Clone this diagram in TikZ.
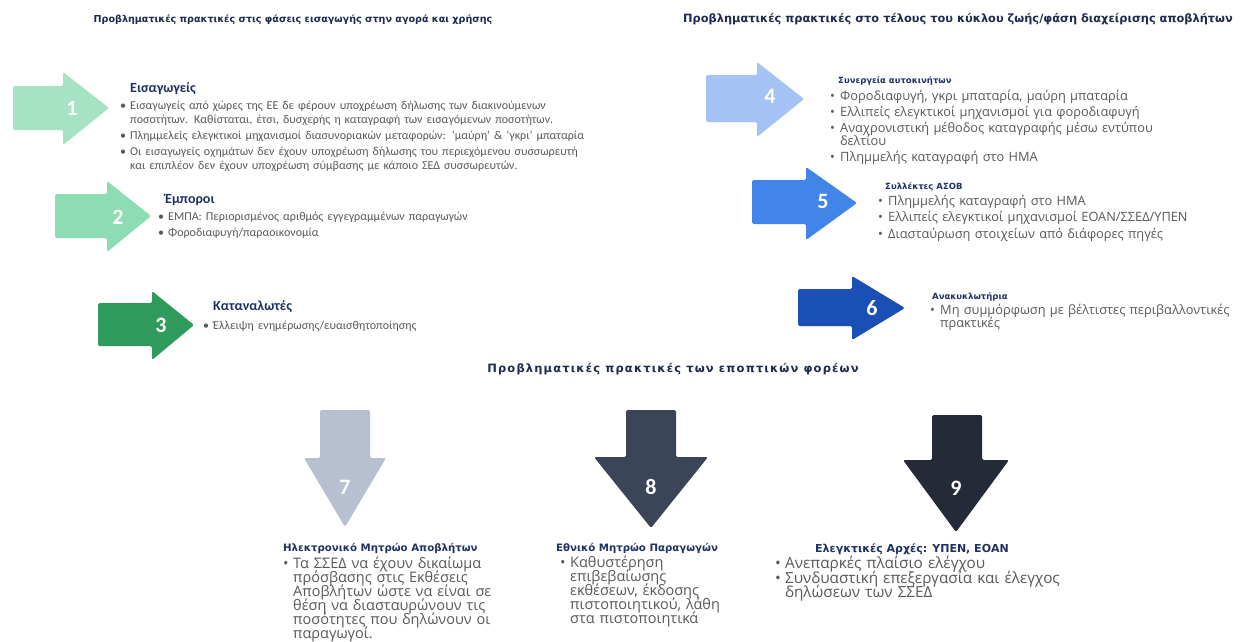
\documentclass[tikz,border=0pt]{standalone}
\usepackage{fontspec}
\setmainfont{Carlito}
\newfontfamily\osans{Open Sans}
\newfontfamily\dvs{DejaVu Sans}
\definecolor{navy}{HTML}{1F2A4F}
\definecolor{hnavy}{HTML}{1F3266}
\definecolor{bodyg}{HTML}{595959}
\definecolor{cA}{HTML}{A6E3C5}
\definecolor{cB}{HTML}{8EDCB4}
\definecolor{cC}{HTML}{2E9A5C}
\definecolor{cD}{HTML}{A4C2F4}
\definecolor{cE}{HTML}{4285E8}
\definecolor{cF}{HTML}{1A4FB5}
\definecolor{cG}{HTML}{B7C0D0}
\definecolor{cH}{HTML}{3A4557}
\definecolor{cI}{HTML}{242A37}
\newcommand\bul{\makebox[10pt][l]{\textbullet}}
\newcommand\hng{\hspace*{10pt}}
\newcommand\tightl{\lineskiplimit=-30pt\relax\lineskip=0pt\relax}
\begin{document}
\begin{tikzpicture}[x=1pt,y=-1pt,
  rc/.style={rounded corners=1.5pt},
  num/.style={text=white,font=\fontsize{22}{22}\selectfont\bfseries,inner sep=0pt},
  ttl/.style={text=navy,inner sep=0pt,anchor=base},
  lhead/.style={text=hnavy,font=\fontsize{14}{16}\selectfont\bfseries,inner sep=0pt,anchor=base west},
  lbody/.style={text=bodyg,font=\fontsize{12}{14}\selectfont,inner sep=0pt,anchor=base west,text width=600pt,align=left,execute at begin node=\tightl},
  rhead/.style={text=hnavy,font=\dvs\fontsize{8.5}{10}\selectfont\bfseries,inner sep=0pt,anchor=base west},
  rbody/.style={text=bodyg,font=\osans\fontsize{12.8}{13}\selectfont,inner sep=0pt,anchor=base west,text width=400pt,align=left,execute at begin node=\tightl},
  bhead/.style={text=hnavy,font=\dvs\fontsize{10.2}{11}\selectfont\bfseries,inner sep=0pt,anchor=base west},
  bbody/.style={text=bodyg,font=\osans\fontsize{14.5}{14}\selectfont,inner sep=0pt,anchor=base west,text width=400pt,align=left,execute at begin node=\tightl}
]
\useasboundingbox[fill=white] (0,0) rectangle (1244,641);

% titles
\node[ttl,font=\dvs\fontsize{9.6}{11}\selectfont\bfseries] (t1) at (293,22) {Προβληματικές πρακτικές στις φάσεις εισαγωγής στην αγορά και χρήσης};
\node[ttl,font=\dvs\fontsize{11.4}{12}\selectfont\bfseries] (t2) at (958,22) {Προβληματικές πρακτικές στο τέλους του κύκλου ζωής/φάση διαχείρισης αποβλήτων};
\node[ttl,font=\dvs\fontsize{11.5}{12}\selectfont\bfseries\addfontfeatures{LetterSpace=10}] (t3) at (673,372) {Προβληματικές πρακτικές των εποπτικών φορέων};

% left arrows
\fill[cA,rc] (13,86) -- (63,86) -- (63,72) -- (109,108) -- (63,145) -- (63,130) -- (13,130) -- cycle;
\node[num] (n1) at (72,108) {1};
\fill[cB,rc] (55,194) -- (107,194) -- (107,181) -- (151,216) -- (107,252) -- (107,238) -- (55,238) -- cycle;
\node[num] (n2) at (118,217) {2};
\fill[cC,rc] (98,303) -- (152,303) -- (152,291) -- (194,325) -- (152,360) -- (152,346) -- (98,346) -- cycle;
\node[num] (n3) at (161,325) {3};

% right arrows
\fill[cD,rc] (706,75) -- (757,75) -- (757,62) -- (804,99) -- (757,137) -- (757,122) -- (706,122) -- cycle;
\node[num] (n4) at (770,96) {4};
\fill[cE,rc] (752,180) -- (806,180) -- (806,167) -- (857,203) -- (806,240) -- (806,224) -- (752,224) -- cycle;
\node[num] (n5) at (823,201) {5};
\fill[cF,rc] (798,289) -- (852,289) -- (852,276) -- (905,308) -- (852,340) -- (852,326) -- (798,326) -- cycle;
\node[num] (n6) at (872,308) {6};

% down arrows
\fill[cG,rc] (320,410) -- (370,410) -- (370,458) -- (386,458) -- (345,527) -- (304,458) -- (320,458) -- cycle;
\node[num] (n7) at (345,487) {7};
\fill[cH,rc] (626,410) -- (676,410) -- (676,457) -- (708,457) -- (651,528) -- (594,457) -- (626,457) -- cycle;
\node[num] (n8) at (651,487) {8};
\fill[cI,rc] (932,415) -- (982,415) -- (982,460) -- (1009,460) -- (956,532) -- (903,460) -- (932,460) -- cycle;
\node[num] (n9) at (956,488) {9};

% left texts
\node[lhead] (h1) at (130,92) {Εισαγωγείς};
\node[lbody] (b1) at (120,109.5) {\bul Εισαγωγείς από χώρες της ΕΕ δε φέρουν υποχρέωση δήλωσης των διακινούμενων\\
\hng ποσοτήτων. Καθίσταται, έτσι, δυσχερής η καταγραφή των εισαγόμενων ποσοτήτων.\\[2pt]
\bul Πλημμελείς ελεγκτικοί μηχανισμοί διασυνοριακών μεταφορών: ‘μαύρη’ \& ‘γκρι’ μπαταρία\\[2pt]
\bul Οι εισαγωγείς οχημάτων δεν έχουν υποχρέωση δήλωσης του περιεχόμενου συσσωρευτή\\
\hng και επιπλέον δεν έχουν υποχρέωση σύμβασης με κάποιο ΣΕΔ συσσωρευτών.};

\node[lhead] (h2) at (165,203) {Έμποροι};
\node[lbody,text width=400pt] (b2) at (158,220.5) {\bul ΕΜΠΑ: Περιορισμένος αριθμός εγγεγραμμένων παραγωγών\\[2pt]
\bul Φοροδιαφυγή/παραοικονομία};

\node[lhead] (h3) at (213,310) {Καταναλωτές};
\node[lbody,text width=400pt] (b3) at (203,329.5) {\bul Έλλειψη ενημέρωσης/ευαισθητοποίησης};

% right texts
\node[rhead] (h4) at (838,83) {Συνεργεία αυτοκινήτων};
\node[rbody] (b4) at (830,100) {\bul Φοροδιαφυγή, γκρι μπαταρία, μαύρη μπαταρία\\[3pt]
\bul Ελλιπείς ελεγκτικοί μηχανισμοί για φοροδιαφυγή\\[3pt]
\bul Αναχρονιστική μέθοδος καταγραφής μέσω εντύπου\\
\hng δελτίου\\[3pt]
\bul Πλημμελής καταγραφή στο ΗΜΑ};

\node[rhead] (h5) at (885,189) {Συλλέκτες ΑΣΟΒ};
\node[rbody] (b5) at (878,205) {\bul Πλημμελής καταγραφή στο ΗΜΑ\\[3.5pt]
\bul Ελλιπείς ελεγκτικοί μηχανισμοί ΕΟΑΝ/ΣΣΕΔ/ΥΠΕΝ\\[3.5pt]
\bul Διασταύρωση στοιχείων από διάφορες πηγές};

\node[rhead] (h6) at (932,299) {Ανακυκλωτήρια};
\node[rbody] (b6) at (930,314) {\bul Μη συμμόρφωση με βέλτιστες περιβαλλοντικές\\
\hng πρακτικές};

% bottom texts
\node[bhead] (h7) at (283,551) {Ηλεκτρονικό Μητρώο Αποβλήτων};
\node[bbody] (b7) at (283,568) {\bul Τα ΣΣΕΔ να έχουν δικαίωμα\\
\hng πρόσβασης στις Εκθέσεις\\
\hng Αποβλήτων ώστε να είναι σε\\
\hng θέση να διασταυρώνουν τις\\
\hng ποσότητες που δηλώνουν οι\\
\hng παραγωγοί.};

\node[bhead] (h8) at (556,551) {Εθνικό Μητρώο Παραγωγών};
\node[bbody] (b8) at (560,567.5) {\bul Καθυστέρηση\\
\hng επιβεβαίωσης\\
\hng εκθέσεων, έκδοσης\\
\hng πιστοποιητικού, λάθη\\
\hng στα πιστοποιητικά};

\node[bhead,anchor=base,font=\dvs\fontsize{11}{12}\selectfont\bfseries] (h9) at (912,552) {Ελεγκτικές Αρχές: ΥΠΕΝ, ΕΟΑΝ};
\node[bbody,font=\osans\fontsize{15.3}{14}\selectfont] (b9) at (775,568) {\bul Ανεπαρκές πλαίσιο ελέγχου\\[1.5pt]
\bul Συνδυαστική επεξεργασία και έλεγχος\\
\hng δηλώσεων των ΣΣΕΔ};
\end{tikzpicture}
\end{document}
